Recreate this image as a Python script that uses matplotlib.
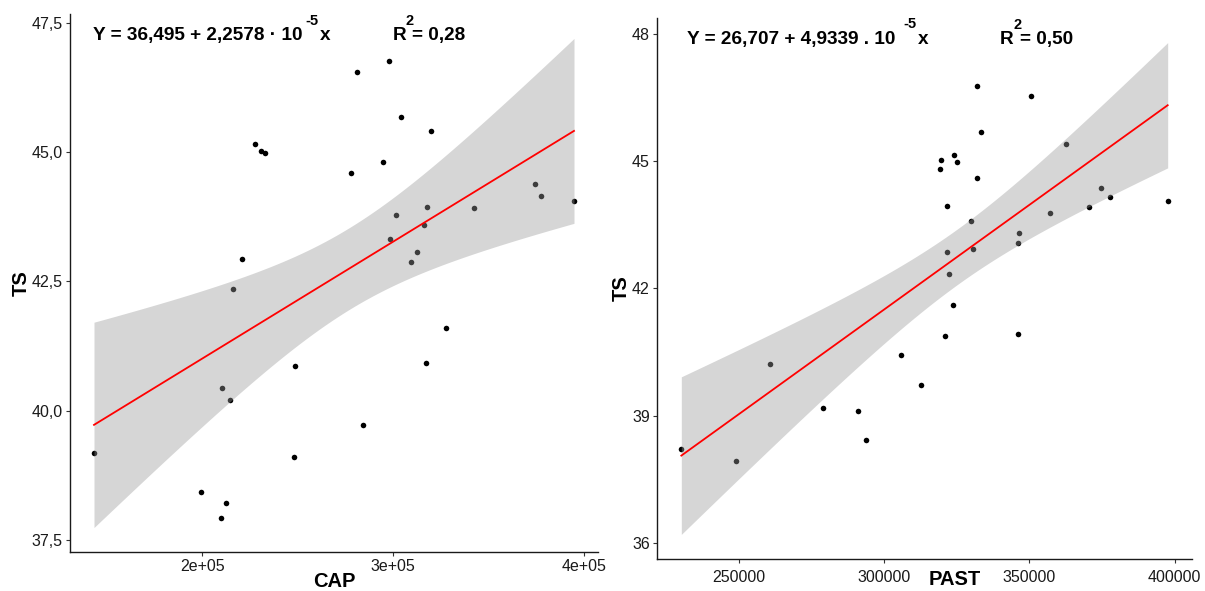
import numpy as np
import matplotlib
matplotlib.use("Agg")
import matplotlib.pyplot as plt

# ggplot theme_classic look
plt.rcParams.update({
    "font.family":       ["Liberation Sans", "DejaVu Sans"],
    "axes.spines.top":   False,
    "axes.spines.right": False,
    "axes.edgecolor":    "#1a1a1a",
    "axes.linewidth":    1.0,
    "xtick.color":       "#333333",
    "ytick.color":       "#333333",
    "xtick.labelcolor":  "#1a1a1a",
    "ytick.labelcolor":  "#1a1a1a",
    "xtick.major.size":  3.2,
    "ytick.major.size":  3.2,
    "xtick.major.width": 0.8,
    "ytick.major.width": 0.8,
    "xtick.labelsize":   11.5,
    "ytick.labelsize":   11.5,
})
C_POINT = "black"
C_BAND  = "#999999"   # grey60, drawn with alpha 0.4 over the points
C_LINE  = "red"
T_CRIT  = 2.042       # t(0.975, df = 30)

W, H = 1205, 591

# Data
TS = [37.92, 38.22, 38.42, 39.11, 39.19, 39.73, 40.21, 40.44,
      40.87, 40.92, 41.60, 42.35, 42.87, 42.94, 43.07, 43.31,
      43.59, 43.79, 43.91, 43.94, 44.06, 44.16, 44.38, 44.60,
      44.81, 44.98, 45.02, 45.15, 45.40, 45.68, 46.54, 46.77]
CAP = [209960, 212550, 199402, 248008, 143426, 284263, 214741, 210359,
       248805, 317131, 327490, 216135, 309363, 220717, 312550, 298406,
       315936, 301594, 342032, 317928, 394622, 377092, 374303, 278088,
       294821, 233068, 230876, 227689, 319721, 304183, 281275, 298008]
PAST = [248945, 230095, 293764, 290996, 279000, 312747, 260546, 305629,
        321052, 346230, 323821, 322239, 321712, 330543, 346230, 346493,
        329752, 357170, 370485, 321712, 397640, 377603, 374703, 331861,
        319207, 325007, 319602, 324084, 362444, 333180, 350580, 331861]

CAP_TICKS   = [200000, 300000, 400000]
CAP_LABELS  = ["2e+05", "3e+05", "4e+05"]
PAST_TICKS  = [250000, 300000, 350000, 400000]
PAST_LABELS = ["250000", "300000", "350000", "400000"]
TS_TICKS_L  = [37.5, 40.0, 42.5, 45.0, 47.5]
TS_LABELS_L = ["37,5", "40,0", "42,5", "45,0", "47,5"]
TS_TICKS_R  = [36, 39, 42, 45, 48]
TS_LABELS_R = ["36", "39", "42", "45", "48"]


def lm_band(x, y, n_grid=80):
    """OLS fit with 95% confidence band of the mean (like geom_smooth(method='lm'))."""
    x = np.asarray(x, float)
    y = np.asarray(y, float)
    b1, b0 = np.polyfit(x, y, 1)
    n = len(x)
    s = np.sqrt(np.sum((y - (b0 + b1 * x)) ** 2) / (n - 2))
    grid = np.linspace(x.min(), x.max(), n_grid)
    fit = b0 + b1 * grid
    se = s * np.sqrt(1 / n + (grid - x.mean()) ** 2 / np.sum((x - x.mean()) ** 2))
    return grid, fit, fit - T_CRIT * se, fit + T_CRIT * se


def scatter_panel(ax, x, y, xlabel, xticks, xlabels, yticks, ylabels,
                  xtick_pad=2, label_xy=(0.5, -0.04)):
    ax.scatter(x, y, s=16, color=C_POINT, linewidths=0, zorder=2)
    grid, fit, lo, hi = lm_band(x, y)
    ax.fill_between(grid, lo, hi, color=C_BAND, alpha=0.4, linewidth=0, zorder=3)
    ax.plot(grid, fit, color=C_LINE, linewidth=1.3, zorder=4)
    ax.set_xticks(xticks)
    ax.set_xticklabels(xlabels)
    ax.set_yticks(yticks)
    ax.set_yticklabels(ylabels)
    ax.tick_params(axis="x", pad=xtick_pad)
    ax.tick_params(axis="y", pad=2)
    ax.set_xlabel(xlabel, fontsize=14.5, fontweight="bold")
    ax.xaxis.set_label_coords(*label_xy)
    ax.set_ylabel("TS", fontsize=14.5, fontweight="bold", labelpad=1)


def ftext(x, y, s, size=13.7, **kw):
    """Text placed by pixel position (x from left, baseline y from top)."""
    fig.text(x / W, 1 - y / H, s, fontsize=size, fontweight="bold",
             va="baseline", ha="left", **kw)


fig = plt.figure(figsize=(W / 100, H / 100), dpi=100)
ax1 = fig.add_axes([70 / W, 1 - 552 / H, (598 - 70) / W, (552 - 14) / H])
ax2 = fig.add_axes([657 / W, 1 - 559 / H, (1192 - 657) / W, (559 - 18) / H])

scatter_panel(ax1, CAP, TS, "CAP", CAP_TICKS, CAP_LABELS, TS_TICKS_L, TS_LABELS_L,
              xtick_pad=2, label_xy=(0.5, -0.038))
scatter_panel(ax2, PAST, TS, "PAST", PAST_TICKS, PAST_LABELS, TS_TICKS_R, TS_LABELS_R,
              xtick_pad=5, label_xy=(0.557, -0.020))

# Equations
ftext(93, 40, "Y = 36,495 + 2,2578 \u00b7 10")
ftext(305, 25, "-5", size=10.5)
ftext(320, 40, "x")
ftext(393, 40, "R")
ftext(405, 25, "2", size=10.5)
ftext(412, 40, "= 0,28")

ftext(687, 44, "Y = 26,707 + 4,9339 . 10")
ftext(903, 28, "-5", size=10.5)
ftext(918, 44, "x")
ftext(1000, 44, "R")
ftext(1013, 29, "2", size=10.5)
ftext(1020, 44, "= 0,50")

plt.savefig("out.png", dpi=100)
plt.close()
